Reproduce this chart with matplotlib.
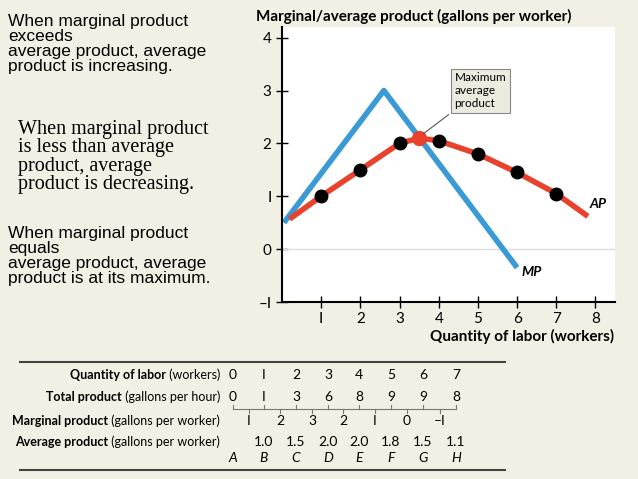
import matplotlib
matplotlib.use("Agg")
import matplotlib.pyplot as plt

# chart data
mp_x = [0.05, 2.6, 6.0]
mp_y = [0.5, 3.0, -0.35]
ap_x = [0.25, 1, 2, 3, 3.5, 4, 5, 6, 7, 7.75]
ap_y = [0.6, 1.0, 1.5, 2.0, 2.1, 2.05, 1.8, 1.45, 1.05, 0.65]
dot_x = [1, 2, 3, 4, 5, 6, 7]
dot_y = [1.0, 1.5, 2.0, 2.05, 1.8, 1.45, 1.05]
max_x, max_y = 3.5, 2.1

# table data
labor = ["0", "I", "2", "3", "4", "5", "6", "7"]
total = ["0", "I", "3", "6", "8", "9", "9", "8"]
marginal = ["I", "2", "3", "2", "I", "0", "\u2013I"]
average = ["", "1.0", "1.5", "2.0", "2.0", "1.8", "1.5", "1.1"]
letters = ["A", "B", "C", "D", "E", "F", "G", "H"]
row_labels = [
    ("Quantity of labor", " (workers)"),
    ("Total product", " (gallons per hour)"),
    ("Marginal product", " (gallons per worker)"),
    ("Average product", " (gallons per worker)"),
]

BG = "#f2f0e4"
W, H = 638, 479
fig = plt.figure(figsize=(6.38, 4.79), dpi=100, facecolor=BG)

def fx(px):
    return px / W

def fy(py):
    return 1 - py / H

ax = fig.add_axes([0.442, 0.3695, 0.522, 0.574], facecolor="white")
ax.set_xlim(0, 8.5)
ax.set_ylim(-1, 4.2)
ax.axhline(0, color="#dddddd", lw=1)
ax.plot(mp_x, mp_y, color="#3a9ad6", lw=4, solid_capstyle="butt")
ax.plot(ap_x, ap_y, color="#e8412c", lw=4)
ax.plot(dot_x, dot_y, "o", color="black", ms=9)
ax.plot([max_x], [max_y], "o", color="#e8412c", ms=10)
for s in ["top", "right"]:
    ax.spines[s].set_visible(False)
ax.spines["left"].set_linewidth(1.5)
ax.spines["bottom"].set_linewidth(1.5)
ax.set_xticks(range(1, 9))
ax.set_xticklabels([str(i) if i != 1 else "I" for i in range(1, 9)], fontfamily="Lato", fontsize=11)
ax.set_yticks(range(-1, 5))
ax.set_yticklabels(["\u2013I", "0", "I", "2", "3", "4"], fontfamily="Lato", fontsize=11)
ax.tick_params(direction="inout", length=8, width=1)
ax.text(7.85, 0.78, "AP", fontweight="bold", style="italic", fontsize=10, fontfamily="Lato")
ax.text(6.1, -0.5, "MP", fontweight="bold", style="italic", fontsize=10, fontfamily="Lato")
ax.annotate("Maximum\naverage\nproduct", xy=(max_x + 0.05, max_y + 0.05), xytext=(4.4, 2.65),
            fontsize=8.5, fontfamily="Lato", va="bottom", ha="left",
            bbox=dict(boxstyle="square,pad=0.3", fc="#ecebe0", ec="#888888", lw=0.8),
            arrowprops=dict(arrowstyle="-", color="#555555", lw=0.8))
fig.text(fx(256), fy(16), "Marginal/average product (gallons per worker)", fontsize=11,
         fontweight="bold", fontfamily="Lato", va="center")
fig.text(fx(614), fy(336), "Quantity of labor (workers)", fontsize=11, fontweight="bold",
         fontfamily="Lato", va="center", ha="right")

# left notes
fig.text(fx(8), fy(14), "When marginal product\nexceeds\naverage product, average\nproduct is increasing.",
         fontfamily="Liberation Sans", fontsize=12.5, va="top", linespacing=1.0)
fig.text(fx(18), fy(120), "When marginal product\nis less than average\nproduct, average\nproduct is decreasing.",
         fontfamily="Liberation Serif", fontsize=14.5, va="top", linespacing=0.95)
fig.text(fx(8), fy(226), "When marginal product\nequals\naverage product, average\nproduct is at its maximum.",
         fontfamily="Liberation Sans", fontsize=12.5, va="top", linespacing=1.0)

# table
fig.add_artist(plt.Line2D([fx(20), fx(505)], [fy(362), fy(362)], color="#444444", lw=1.5))
fig.add_artist(plt.Line2D([fx(20), fx(505)], [fy(470), fy(470)], color="#444444", lw=1.5))
col_x = [233, 264, 296, 328, 359, 391, 423, 456]
tkw = dict(fontfamily="Lato", fontsize=10, ha="center", va="center")
for i in range(8):
    fig.text(fx(col_x[i]), fy(375), labor[i], **tkw)
    fig.text(fx(col_x[i]), fy(397), total[i], **tkw)
    fig.text(fx(col_x[i]), fy(442), average[i], **tkw)
    fig.text(fx(col_x[i]), fy(458), letters[i], style="italic", **tkw)
for i in range(7):
    fig.text(fx((col_x[i] + col_x[i + 1]) / 2), fy(421), marginal[i], **tkw)
fig.add_artist(plt.Line2D([fx(col_x[0]), fx(col_x[-1])], [fy(409), fy(409)], color="#777777", lw=0.8))
for i in range(8):
    fig.add_artist(plt.Line2D([fx(col_x[i])] * 2, [fy(405), fy(409)], color="#777777", lw=0.8))
for i in range(7):
    xm = (col_x[i] + col_x[i + 1]) / 2
    fig.add_artist(plt.Line2D([fx(xm)] * 2, [fy(409), fy(413)], color="#777777", lw=0.8))

renderer = fig.canvas.get_renderer()
for (bold, normal), py in zip(row_labels, [375, 397, 421, 442]):
    t = fig.text(fx(220), fy(py), normal, fontfamily="Lato", fontsize=9, ha="right", va="center")
    bb = t.get_window_extent(renderer)
    fig.text(bb.x0 / fig.dpi / 6.38, fy(py), bold, fontfamily="Lato", fontsize=9,
             fontweight="bold", ha="right", va="center")

fig.savefig("out.png", dpi=100, facecolor=BG)
